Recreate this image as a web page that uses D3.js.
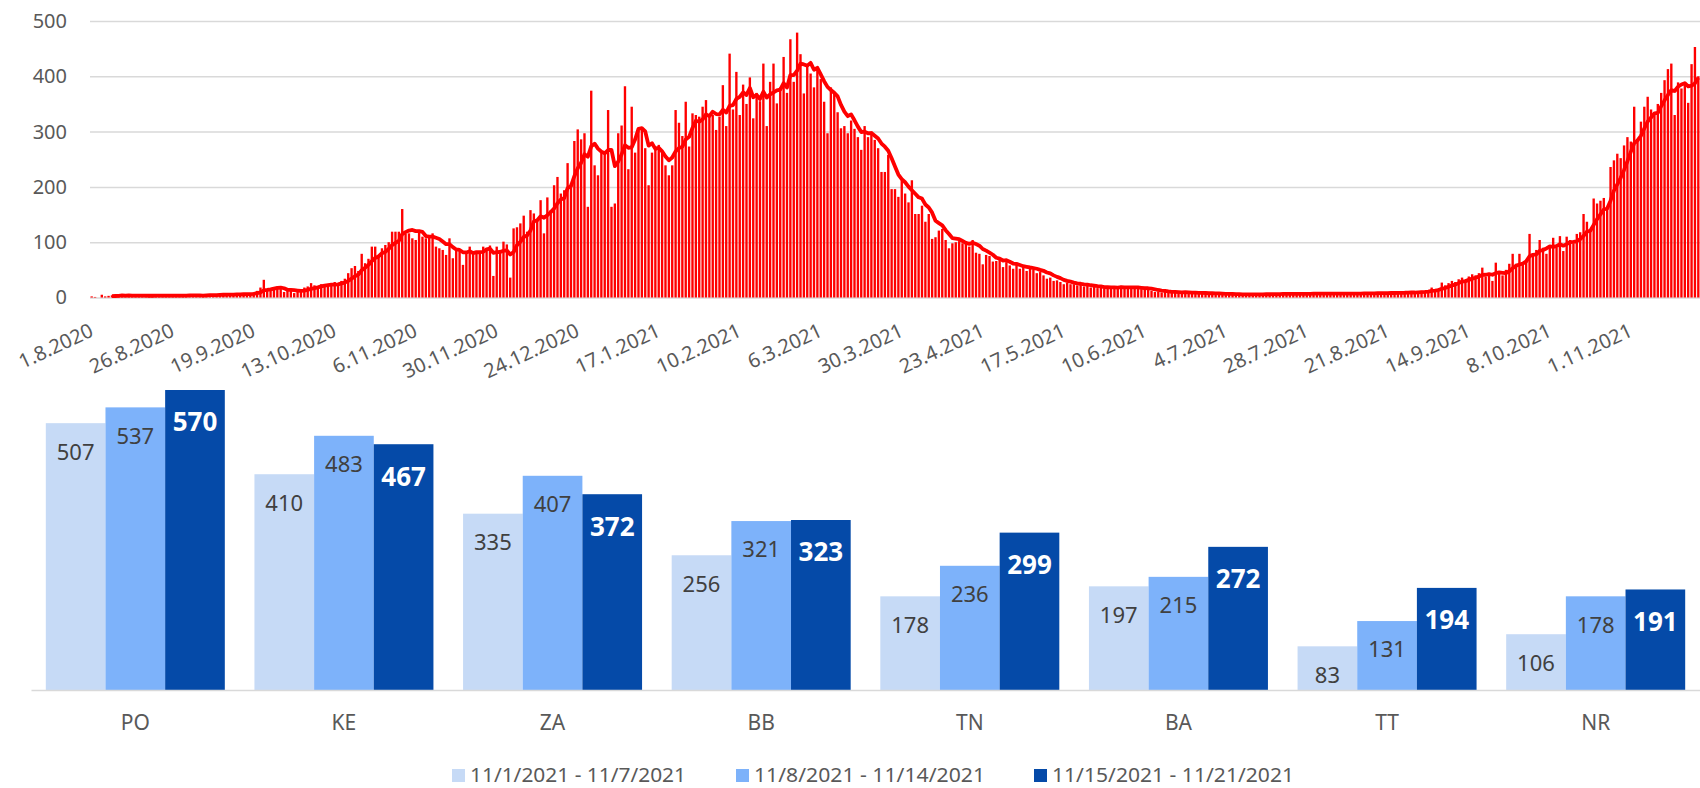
<!DOCTYPE html>
<html><head><meta charset="utf-8">
<script src="https://cdn.jsdelivr.net/npm/d3@7"></script>
<style>html,body{margin:0;padding:0;background:#fff;} svg{display:block;}</style>
</head><body><svg id="chart" width="1700" height="788"></svg>
<script>
// ---- data: daily counts (1.8.2020 – 21.11.2021) ----
const dailyCases = [
2,1,0,5,2,3,4,4,3,5,
4,3,2,4,3,4,4,2,3,5,
4,3,2,4,4,3,5,3,4,3,
5,4,2,4,5,6,4,5,7,4,
5,6,5,7,6,8,5,7,9,12,
18,32,14,12,16,18,15,10,12,14,
8,11,13,18,20,26,22,18,24,22,
24,26,28,24,30,34,44,53,57,48,
79,62,70,92,92,77,89,95,100,119,
119,119,160,115,116,107,104,119,110,107,
108,116,92,89,86,77,107,71,86,86,
59,84,92,84,84,84,92,89,94,39,
92,86,101,96,36,125,127,134,148,119,
158,152,140,176,116,181,158,203,218,188,
194,243,206,283,304,286,297,164,374,239,
221,265,265,339,164,170,297,311,382,232,
345,262,307,304,270,203,262,273,276,262,
239,221,239,339,316,292,354,273,333,330,
327,345,357,330,330,303,327,384,310,441,
340,408,330,385,350,398,324,370,355,423,
310,390,423,351,380,435,370,467,390,479,
440,369,420,405,380,415,395,354,297,380,
370,335,306,310,297,320,305,290,267,310,
290,300,285,270,227,227,258,196,196,182,
212,188,172,212,151,151,166,137,151,106,
109,121,124,104,89,98,100,102,98,100,
92,104,81,79,60,77,75,65,66,70,
55,64,58,52,60,52,55,48,55,50,
44,46,40,34,36,30,31,28,24,27,
24,24,22,25,20,22,18,20,17,19,
16,18,20,17,19,21,16,18,17,20,
16,15,17,14,12,10,11,9,10,11,
9,10,8,9,10,8,7,9,8,7,
8,7,8,6,7,6,5,7,6,5,
6,5,6,5,7,5,6,6,7,5,
6,7,6,8,6,7,5,7,8,6,
7,7,8,6,7,8,6,7,7,8,
6,7,8,7,6,8,7,9,7,8,
7,8,9,7,8,10,8,9,8,10,
9,10,9,11,12,10,13,18,14,16,
27,22,26,30,28,33,36,32,38,42,
40,44,54,38,40,30,63,48,40,50,
61,79,61,79,59,68,115,79,86,104,
90,79,94,108,90,111,84,110,104,98,
115,118,151,137,122,179,170,175,180,164,
236,248,260,252,275,290,282,345,285,318,
345,363,340,335,350,370,393,413,423,330,
389,378,387,352,422,453,400
];
const dateTickLabels = ["1.8.2020","26.8.2020","19.9.2020","13.10.2020","6.11.2020","30.11.2020",
  "24.12.2020","17.1.2021","10.2.2021","6.3.2021","30.3.2021","23.4.2021","17.5.2021","10.6.2021",
  "4.7.2021","28.7.2021","21.8.2021","14.9.2021","8.10.2021","1.11.2021"];
const dateTickStep = 24;
const yTicks = [0,100,200,300,400,500];
const movingAvgPeriod = 7;

// ---- data: regions by week ----
const regions = ["PO","KE","ZA","BB","TN","BA","TT","NR"];
const week1 = [507,410,335,256,178,197,83,106];
const week2 = [537,483,407,321,236,215,131,178];
const week3 = [570,467,372,323,299,272,194,191];
const weekLabels = ["11/1/2021 - 11/7/2021","11/8/2021 - 11/14/2021","11/15/2021 - 11/21/2021"];
const weekColors = ["#C6DAF6","#7DB2FA","#054AA8"];

const svg = d3.select("#chart");
const FONT = "'Noto Sans', sans-serif";

// ================= TOP CHART =================
const x = d3.scaleBand().domain(d3.range(dailyCases.length)).range([90,1700])
  .paddingInner(0.3).paddingOuter(0.15);
const y = d3.scaleLinear().domain([0,500]).range([297.5,21]);

const yAxis = svg.append("g").attr("transform","translate(90,0)")
  .call(d3.axisLeft(y).tickValues(yTicks).tickSize(-1610).tickPadding(23));
yAxis.select(".domain").remove();
yAxis.selectAll("line").attr("stroke","#D9D9D9").attr("stroke-width",1.5);
yAxis.selectAll("text").attr("fill","#595959").style("font-family",FONT).style("font-size","20px");

svg.append("g").selectAll("rect").data(dailyCases).join("rect")
  .attr("x",(d,i)=>x(i)).attr("width",x.bandwidth())
  .attr("y",d=>y(d)).attr("height",d=>y(0)-y(d))
  .attr("fill","#FF0000");

const ma = dailyCases.map((d,i)=> i < movingAvgPeriod-1 ? null :
  d3.mean(dailyCases.slice(i-movingAvgPeriod+1, i+1)));
svg.append("path").datum(ma.map((v,i)=>[i,v]).filter(p=>p[1]!==null))
  .attr("fill","none").attr("stroke","#FF0000").attr("stroke-width",3.8)
  .attr("stroke-linejoin","round")
  .attr("d", d3.line().x(p=>x(p[0])+x.bandwidth()/2).y(p=>y(p[1])));

const tickIdx = dateTickLabels.map((_,k)=>k*dateTickStep);
const xAxis = svg.append("g").attr("transform",`translate(0,${y(0)})`)
  .call(d3.axisBottom(x).tickValues(tickIdx).tickSize(0)
    .tickFormat(i=>dateTickLabels[i/dateTickStep]));
xAxis.select(".domain").remove();
xAxis.selectAll("text")
  .attr("text-anchor","end").attr("x",0).attr("y",0).attr("dy",0)
  .attr("transform","translate(3,38) rotate(-25)")
  .attr("fill","#595959").style("font-family",FONT).style("font-size","20px");

// ================= BOTTOM CHART =================
const x0 = d3.scaleBand().domain(regions).range([31,1700]).paddingInner(0.142).paddingOuter(0.071);
const x1 = d3.scaleBand().domain([0,1,2]).range([0,x0.bandwidth()]);
const yb = d3.scaleLinear().domain([0,600]).range([690, 690-600*0.5263]);
const series = [week1,week2,week3];

const groups = svg.append("g").selectAll("g").data(regions).join("g")
  .attr("transform",r=>`translate(${x0(r)},0)`);
groups.selectAll("rect").data((r,ri)=>series.map((s,si)=>({si,v:s[ri]}))).join("rect")
  .attr("x",d=>x1(d.si)).attr("width",x1.bandwidth())
  .attr("y",d=>yb(d.v)).attr("height",d=>yb(0)-yb(d.v))
  .attr("fill",d=>weekColors[d.si]);
groups.selectAll("text.val").data((r,ri)=>series.map((s,si)=>({si,v:s[ri]}))).join("text")
  .attr("class","val")
  .attr("x",d=>x1(d.si)+x1.bandwidth()/2)
  .attr("y",d=>yb(d.v) + (d.si===2 ? 32 : 28.5))
  .attr("dy","0.36em").attr("text-anchor","middle")
  .style("font-family",FONT)
  .style("font-size",d=>d.si===2?"26px":"22px")
  .style("font-weight",d=>d.si===2?"bold":"normal")
  .attr("fill",d=>d.si===2?"#FFFFFF":"#404040")
  .text(d=>d.v);

const bAxis = svg.append("g").attr("transform","translate(0,690)")
  .call(d3.axisBottom(x0).tickSize(0).tickPadding(25));
bAxis.select(".domain").attr("stroke","#D9D9D9").attr("stroke-width",1.5);
bAxis.selectAll("text").attr("fill","#595959").style("font-family",FONT).style("font-size","21px");

// legend
const legendX = [452,736,1034];
const legendW = [216,231,242];
const lg = svg.append("g").selectAll("g").data(weekLabels).join("g");
lg.append("rect").attr("x",(d,i)=>legendX[i]).attr("y",769).attr("width",13).attr("height",13)
  .attr("fill",(d,i)=>weekColors[i]);
lg.append("text").attr("x",(d,i)=>legendX[i]+18).attr("y",782)
  .attr("textLength",(d,i)=>legendW[i]).attr("lengthAdjust","spacingAndGlyphs")
  .attr("fill","#595959").style("font-family",FONT).style("font-size","20px")
  .text(d=>d);
</script></body></html>
